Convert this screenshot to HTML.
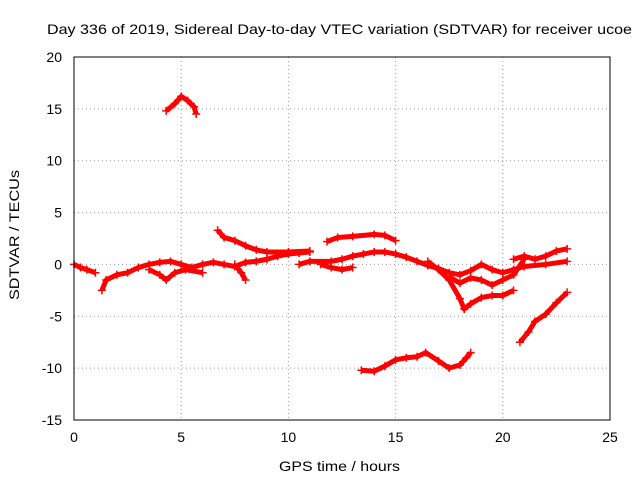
<!DOCTYPE html>
<html><head><meta charset="utf-8"><style>
body{margin:0;background:#fff}
svg text{font-family:"Liberation Sans",sans-serif;font-size:14px;fill:#000}
</style></head><body>
<svg id="chart" width="640" height="480">
<rect width="640" height="480" fill="#fff"/>
<text x="47" y="34" textLength="585" lengthAdjust="spacingAndGlyphs">Day 336 of 2019, Sidereal Day-to-day VTEC variation (SDTVAR) for receiver ucoe</text>
<text x="279" y="471" textLength="121" lengthAdjust="spacingAndGlyphs">GPS time / hours</text>
<text transform="translate(19,300) rotate(-90)" textLength="130" lengthAdjust="spacingAndGlyphs">SDTVAR / TECUs</text>
<g id="grid"></g><g id="ticks"></g><g id="marks"></g>
<rect x="74" y="57" width="536" height="363" fill="none" stroke="#000" stroke-width="1"/>
</svg>
<script>
const xTicks=[0,5,10,15,20,25];
const yTicks=[20,15,10,5,0,-5,-10,-15];
const segA=[[0,0],[0.3,-0.3],[0.6,-0.5],[1.0,-0.8]];
const segB=[[1.3,-2.5],[1.5,-1.5],[2,-1],[2.5,-0.8],[3,-0.3],[3.5,0],[4,0.2],[4.5,0.3],[5,0],[5.5,-0.3],[6,0],[6.5,0.2],[7,0],[7.5,-0.2],[8,0.2],[8.5,0.3],[9,0.5],[9.5,0.8],[10,1.0],[10.5,1.1],[11,1.2]];
const segB2=[[3.5,-0.5],[4,-1],[4.3,-1.5],[4.7,-0.8],[5.2,-0.5],[6,-0.8]];
const segC=[[4.3,14.8],[4.7,15.5],[5,16.2],[5.3,15.8],[5.6,15.2],[5.7,14.5]];
const segD=[[6.7,3.3],[7,2.6],[7.5,2.3],[8,1.8],[8.5,1.4],[9,1.2],[10,1.2],[11,1.3]];
const segE=[[7.5,0],[7.8,-0.8],[8,-1.5]];
const segF=[[10.5,0],[11,0.3],[12,0.3],[12.5,0.5],[13,0.8],[13.5,1.0],[14,1.2],[14.5,1.2],[15,1.0],[15.5,0.7],[16,0.3],[16.5,-0.1],[17,-0.4],[17.5,-0.8],[18,-1.0],[18.5,-0.6],[19,0],[19.5,-0.5],[20,-0.8],[20.5,-0.5],[21,-0.2],[22,0],[23,0.3]];
const segG=[[11.8,2.2],[12.3,2.6],[13,2.7],[14,2.9],[14.5,2.8],[15,2.3]];
const segH=[[13.4,-10.2],[14,-10.3],[14.5,-9.8],[15,-9.2],[15.5,-9.0],[16,-8.9],[16.4,-8.5],[17,-9.3],[17.5,-10.0],[18,-9.7],[18.3,-9.0],[18.5,-8.5]];
const segI=[[16.5,0.3],[17,-0.5],[17.5,-1.5],[18,-3.3],[18.2,-4.3],[18.5,-3.8],[19,-3.2],[19.5,-3.0],[20,-3.0],[20.5,-2.5]];
const segJ=[[17.5,-1.2],[18,-1.8],[18.5,-1.3],[19,-1.5],[19.5,-2.0],[20,-1.5],[20.5,-1.0],[21,0.5]];
const segK=[[20.8,-7.5],[21.2,-6.5],[21.5,-5.5],[22,-4.8],[22.5,-3.7],[23,-2.7]];
const segL=[[20.5,0.5],[21,0.8],[21.5,0.5],[22,0.8],[22.5,1.3],[23,1.5]];
const segM=[[11.5,0],[12,-0.3],[12.5,-0.5],[13,-0.3]];
const series=[segA,segB,segB2,segC,segD,segE,segF,segG,segH,segI,segJ,segK,segL,segM];
const NS="http://www.w3.org/2000/svg";
const X=v=>74+v*536/25, Y=v=>57+(20-v)*363/35;
const grid=document.getElementById('grid'),ticks=document.getElementById('ticks'),marks=document.getElementById('marks');
function mk(t,a,p){const e=document.createElementNS(NS,t);for(const k in a)e.setAttribute(k,a[k]);p.appendChild(e);return e;}
xTicks.forEach(t=>{
 if(t>0&&t<25){const g=mk('line',{x1:X(t),x2:X(t),y1:57,y2:420,stroke:'#999','stroke-dasharray':'1,3'},grid);
 
 }
 const tx=mk('text',{x:X(t),y:442,'text-anchor':'middle'},ticks);tx.textContent=t;
 
 
});
yTicks.forEach(t=>{
 if(t<20&&t>-15){const g=mk('line',{x1:74,x2:610,y1:Y(t),y2:Y(t),stroke:'#999','stroke-dasharray':'1,3'},grid);
 
 }
 const tx=mk('text',{x:62,y:Y(t)+5,'text-anchor':'end'},ticks);tx.textContent=t;
 
 
});
series.forEach((s,i)=>{
 const pl=mk('polyline',{points:s.map(p=>X(p[0])+','+Y(p[1])).join(' '),fill:'none',stroke:'#f00','stroke-width':5,'stroke-linejoin':'round'},marks);
 
 
 s.forEach(p=>{const x=X(p[0]),y=Y(p[1]);
  const c=mk('path',{d:`M${x-4},${y}H${x+4}M${x},${y-4}V${y+4}`,stroke:'#f00','stroke-width':1.5},marks);
  
  });
});
</script>
</body></html>
